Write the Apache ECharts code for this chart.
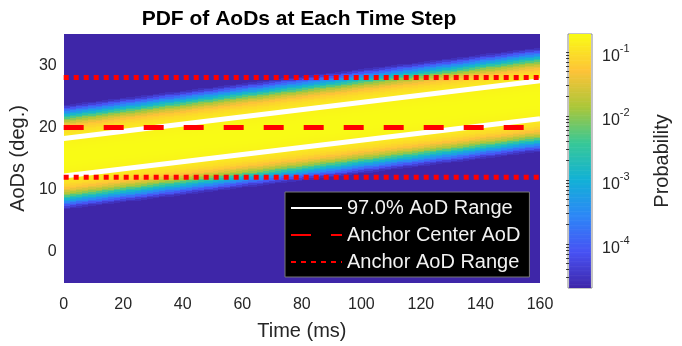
<!DOCTYPE html>
<html lang="en">
<head>
    <meta charset="UTF-8">
    <title>PDF of AoDs at Each Time Step</title>
    <style>
        body { margin: 0; background: #fff; }
    </style>
</head>
<body>
<div id="echart" style="width: 682px; height: 346px;"></div>

<script src="https://cdn.jsdelivr.net/npm/echarts@6/dist/echarts.min.js"></script>
<script>
    // --- values ---
    var timeRange = [0, 160];                 // ms
    var aodRange = [-5, 35];                  // deg
    var aodTicks = [0, 10, 20, 30];
    // 97 % range edges, AoD at t = 0 and t = 160 ms
    var range97Lower = [12.2, 21.4];
    var range97Upper = [18.2, 27.5];
    var anchorCenter = 20;
    var anchorRange = [12, 28];
    // log10(probability) versus distance from the band centre, every 0.25 deg
    var pdfStep = 0.25;
    var pdfLog10 = [-0.72, -0.72, -0.72, -0.72, -0.73, -0.73, -0.74, -0.75, -0.76, -0.77,
                    -0.79, -0.81, -0.84, -0.87, -0.90, -0.94, -0.98, -1.03, -1.10, -1.19,
                    -1.30, -1.44, -1.60, -1.79, -2.00, -2.30, -2.60, -2.90, -3.20, -3.50,
                    -3.80, -4.08, -4.35, -4.55, -4.69, -4.69];
    // colour bar (log10 of probability)
    var cbarRange = [-4.69, -0.72];
    var cbarTicks = [-4, -3, -2, -1];
    var cbarMinor = [];
    [-5, -4, -3, -2, -1].forEach(function (e) {
        for (var k = 2; k <= 9; k++) {
            var v = e + Math.log10(k);
            if (v > cbarRange[0] && v < cbarRange[1]) cbarMinor.push(v);
        }
    });

    var parula = ['#3E26A8', '#4852F4', '#2D87F7', '#12B1D6', '#37C897', '#ABC739', '#FEC338', '#F9FB15'];
    var tStep = 1, aStep = 0.125;

    // heatmap cells: [t, aod, log10 p]
    var cells = [];
    for (var t = timeRange[0]; t < timeRange[1]; t += tStep) {
        var f = (t + tStep / 2) / (timeRange[1] - timeRange[0]);
        var lo = range97Lower[0] + (range97Lower[1] - range97Lower[0]) * f;
        var up = range97Upper[0] + (range97Upper[1] - range97Upper[0]) * f;
        var c = (lo + up) / 2;
        for (var a = aodRange[0]; a < aodRange[1]; a += aStep) {
            var d = Math.abs(a + aStep / 2 - c);
            var idx = Math.min(Math.round(d / pdfStep), pdfLog10.length - 1);
            cells.push([t, a, pdfLog10[idx]]);
        }
    }
    // colour bar cells
    var cbarStep = 0.02;
    var cbarCells = [];
    for (var v = cbarRange[0]; v < cbarRange[1]; v += cbarStep) {
        cbarCells.push([0, v, Math.min(v + cbarStep / 2, cbarRange[1])]);
    }

    var txt = '#262626';
    var dom = document.getElementById("echart");
    var myChart = echarts.init(dom);

    function cellRect(x0, y0, x1, y1) {
        var l = Math.round(Math.min(x0, x1)), r = Math.round(Math.max(x0, x1));
        var t = Math.round(Math.min(y0, y1)), b = Math.round(Math.max(y0, y1));
        return { x: l, y: t, width: r - l, height: b - t };
    }

    var option = {
        animation: false,
        textStyle: { fontFamily: 'Liberation Sans, Arial, Helvetica, sans-serif' },
        title: {
            text: 'PDF of AoDs at Each Time Step',
            left: 299, top: 9, textAlign: 'center', padding: 0,
            textStyle: { fontSize: 21, fontWeight: 'bold', color: '#000' }
        },
        grid: [
            { left: 58, top: 34, width: 482, height: 254 },
            { left: 568, top: 34, width: 24, height: 254, show: true, borderColor: '#8a8a8a', borderWidth: 1, backgroundColor: 'transparent' }
        ],
        xAxis: [
            {
                type: 'value', gridIndex: 0, min: timeRange[0], max: timeRange[1], interval: 20,
                name: 'Time (ms)', nameLocation: 'middle', nameGap: 38,
                nameTextStyle: { fontSize: 20, color: txt },
                axisLine: { show: false }, axisTick: { show: false }, splitLine: { show: false },
                axisLabel: { fontSize: 16, color: txt, margin: 14 }
            },
            {
                type: 'value', gridIndex: 1, min: -0.05, max: 1.05, show: false
            }
        ],
        yAxis: [
            {
                type: 'value', gridIndex: 0, min: aodRange[0], max: aodRange[1],
                name: 'AoDs (deg.)', nameLocation: 'middle', nameGap: 30, nameRotate: 90,
                nameTextStyle: { fontSize: 20, color: txt },
                axisLine: { show: false }, axisTick: { show: false }, splitLine: { show: false },
                axisLabel: { fontSize: 16, color: txt, margin: 7, customValues: aodTicks }
            },
            {
                type: 'value', gridIndex: 1, position: 'right', min: cbarRange[0], max: cbarRange[1], z: 10,
                name: 'Probability', nameLocation: 'middle', nameGap: 60, nameRotate: 90,
                nameTextStyle: { fontSize: 20, color: txt },
                axisLine: { show: false }, splitLine: { show: false },
                axisTick: { show: true, inside: true, length: 3, customValues: cbarTicks.concat(cbarMinor), lineStyle: { color: '#333' } },
                axisLabel: {
                    customValues: cbarTicks, margin: 10, color: txt,
                    formatter: function (val) { return '{b|10}{s|' + Math.round(val) + '}'; },
                    rich: {
                        b: { fontSize: 16, color: txt, padding: [10, 0, 0, 0] },
                        s: { fontSize: 11, color: txt, padding: [0, 0, 5, 0] }
                    }
                }
            }
        ],
        visualMap: {
            type: 'continuous', show: false, min: cbarRange[0], max: cbarRange[1],
            dimension: 2, seriesIndex: [0, 6],
            inRange: { color: parula }
        },
        legend: {
            orient: 'vertical', left: 285, top: 192, selectedMode: false,
            backgroundColor: '#000', borderColor: '#777', borderWidth: 1,
            padding: [6, 9, 5, 5], itemGap: 7, itemWidth: 51, itemHeight: 20,
            itemStyle: { opacity: 0 },
            textStyle: { color: '#f2f2f2', fontSize: 20 },
            data: ['97.0% AoD Range', 'Anchor Center AoD', 'Anchor AoD Range']
        },
        series: [
            {
                type: 'custom', xAxisIndex: 0, yAxisIndex: 0, data: cells, clip: true,
                encode: { x: 0, y: 1 }, silent: true, progressive: 0,
                renderItem: function (params, api) {
                    var p0 = api.coord([api.value(0), api.value(1)]);
                    var p1 = api.coord([api.value(0) + tStep, api.value(1) + aStep]);
                    return {
                        type: 'rect',
                        shape: cellRect(p0[0], p0[1], p1[0], p1[1]),
                        style: { fill: api.visual('color') }
                    };
                }
            },
            {
                name: '97.0% AoD Range', type: 'line', symbol: 'none', z: 3,
                data: [[timeRange[0], range97Lower[0]], [timeRange[1], range97Lower[1]]],
                lineStyle: { color: '#fff', width: 5 }, itemStyle: { color: '#fff' }
            },
            {
                name: '97.0% AoD Range', type: 'line', symbol: 'none', z: 3,
                data: [[timeRange[0], range97Upper[0]], [timeRange[1], range97Upper[1]]],
                lineStyle: { color: '#fff', width: 5 }, itemStyle: { color: '#fff' }
            },
            {
                name: 'Anchor Center AoD', type: 'line', symbol: 'none', z: 4,
                data: [[timeRange[0], anchorCenter], [timeRange[1], anchorCenter]],
                lineStyle: { color: '#ff0000', width: 5, type: [20, 20], cap: 'butt' }, itemStyle: { color: '#ff0000' }
            },
            {
                name: 'Anchor AoD Range', type: 'line', symbol: 'none', z: 4,
                data: [[timeRange[0], anchorRange[1]], [timeRange[1], anchorRange[1]]],
                lineStyle: { color: '#ff0000', width: 5, type: [5, 5], cap: 'butt' }, itemStyle: { color: '#ff0000' }
            },
            {
                name: 'Anchor AoD Range', type: 'line', symbol: 'none', z: 4,
                data: [[timeRange[0], anchorRange[0]], [timeRange[1], anchorRange[0]]],
                lineStyle: { color: '#ff0000', width: 5, type: [5, 5], cap: 'butt' }, itemStyle: { color: '#ff0000' }
            },
            {
                type: 'custom', xAxisIndex: 1, yAxisIndex: 1, data: cbarCells, clip: true,
                encode: { x: 0, y: 1 }, silent: true,
                renderItem: function (params, api) {
                    var p0 = api.coord([0, api.value(1)]);
                    var p1 = api.coord([1, api.value(1) + cbarStep]);
                    return {
                        type: 'rect',
                        shape: { x: p0[0], y: p1[1], width: p1[0] - p0[0], height: p0[1] - p1[1] + 0.6 },
                        style: { fill: api.visual('color') }
                    };
                }
            }
        ]
    };
    myChart.setOption(option);
</script>
</body>
</html>
